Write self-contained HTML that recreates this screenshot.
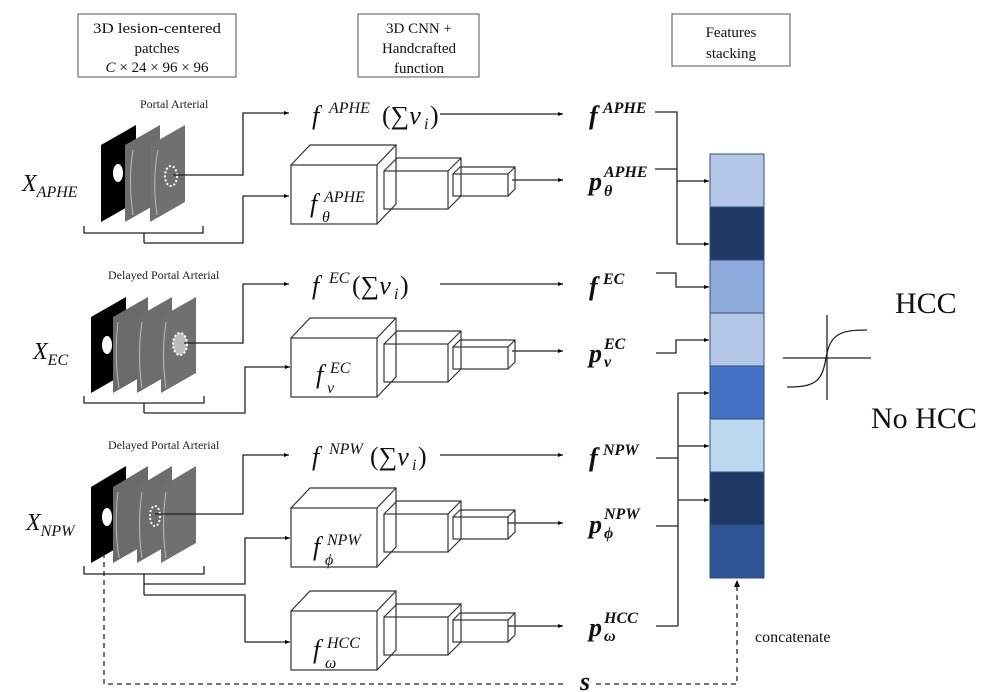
<!DOCTYPE html>
<html><head><meta charset="utf-8"><style>
html,body{margin:0;padding:0;background:#fff;}
svg{display:block;}
.m{font-family:"Liberation Serif","DejaVu Serif",serif;font-style:italic;}
.b{font-family:"Liberation Serif","DejaVu Serif",serif;font-style:italic;font-weight:bold;}
.t{font-family:"Liberation Serif",serif;}
</style></head><body>
<svg width="997" height="692" viewBox="0 0 997 692" xmlns="http://www.w3.org/2000/svg">
<defs>
<marker id="a" markerWidth="6" markerHeight="6" refX="5" refY="3" orient="auto" markerUnits="userSpaceOnUse"><path d="M0,1 L5,3 L0,5z" fill="#000"/></marker>
<g id="cube" fill="#fff" stroke="#333" stroke-width="1.2">
<path d="M0,0 L19,-20 L105,-20 L105,39 L86,59 Z"/>
<rect x="0" y="0" width="86" height="59"/>
<line x1="86" y1="0" x2="105" y2="-20"/>
<rect x="93" y="6" width="64" height="38" fill="none"/>
<path d="M93,6 L106,-7 L170,-7 L170,31 L157,44 M157,6 L170,-7" fill="none"/>
<rect x="162" y="9" width="55" height="22" fill="none"/>
<path d="M162,9 L169,2 L224,2 L224,24 L217,31 M217,9 L224,2" fill="none"/>
</g>
</defs>
<g stroke="#555" fill="#fff" stroke-width="1">
<rect x="78" y="14" width="158" height="63"/>
<rect x="358" y="14" width="121" height="63"/>
<rect x="672" y="14" width="118" height="52"/>
</g>
<g class="t" font-size="15" text-anchor="middle" fill="#111">
<text x="157" y="33" textLength="128" lengthAdjust="spacingAndGlyphs">3D lesion-centered</text>
<text x="157" y="53">patches</text>
<text x="157" y="72" font-size="15"><tspan font-style="italic">C</tspan> × 24 × 96 × 96</text>
<text x="419" y="33">3D CNN +</text>
<text x="419" y="53">Handcrafted</text>
<text x="419" y="73">function</text>
<text x="731" y="37">Features</text>
<text x="731" y="58">stacking</text>
</g>
<g font-family="Liberation Serif,serif" font-size="12" fill="#222">
<text x="140" y="108">Portal  Arterial</text>
<text x="108" y="279">Delayed Portal Arterial</text>
<text x="108" y="449">Delayed Portal Arterial</text>
</g>
<g>
<path d="M101,145 L136,125 L136,202 L101,222Z" fill="#000"/>
<path d="M125,145 L160,125 L160,202 L125,222Z" fill="#6d6d6d"/>
<path d="M150,145 L185,125 L185,202 L150,222Z" fill="#707070"/>
<ellipse cx="118" cy="173" rx="5" ry="9" fill="#fff"/>
<path d="M133,150 Q128,180 133,215 M158,150 Q152,180 157,215" stroke="#bbb" fill="none"/>
<ellipse cx="171" cy="176" rx="6" ry="10" fill="none" stroke="#fff" stroke-width="2" stroke-dasharray="2,2"/>
</g>
<g>
<path d="M91,317 L126,297 L126,373 L91,393Z" fill="#000"/>
<path d="M113,317 L148,297 L148,373 L113,393Z" fill="#6a6a6a"/>
<path d="M137,317 L172,297 L172,373 L137,393Z" fill="#6d6d6d"/>
<path d="M161,317 L196,297 L196,373 L161,393Z" fill="#707070"/>
<ellipse cx="107" cy="345" rx="5" ry="9" fill="#fff"/>
<path d="M118,322 Q114,355 119,388 M142,322 Q137,355 142,388 M166,322 Q161,355 166,388" stroke="#bbb" fill="none"/>
<ellipse cx="180" cy="344" rx="7" ry="11" fill="#bbb" stroke="#fff" stroke-width="2" stroke-dasharray="2,2"/>
</g>
<g>
<path d="M91,487 L126,466 L126,543 L91,563Z" fill="#000"/>
<path d="M113,487 L148,466 L148,543 L113,563Z" fill="#6a6a6a"/>
<path d="M137,487 L172,466 L172,543 L137,563Z" fill="#6d6d6d"/>
<path d="M161,487 L196,466 L196,543 L161,563Z" fill="#707070"/>
<ellipse cx="107" cy="517" rx="5" ry="9" fill="#fff"/>
<path d="M118,492 Q114,525 119,558 M142,492 Q137,525 142,558 M166,492 Q161,525 166,558" stroke="#bbb" fill="none"/>
<ellipse cx="155" cy="516" rx="5" ry="10" fill="none" stroke="#fff" stroke-width="2" stroke-dasharray="2,2"/>
</g>
<g class="m" font-size="24" fill="#111">
<text x="22" y="191">X<tspan font-size="16" dy="6">APHE</tspan></text>
<text x="33" y="359">X<tspan font-size="16" dy="6">EC</tspan></text>
<text x="26" y="530">X<tspan font-size="16" dy="6">NPW</tspan></text>
</g>
<g stroke="#222" stroke-width="1.3" fill="none">
<path d="M84,226 L84,233 L203,233 L203,226 M144,233 L144,243"/>
<path d="M84,396 L84,403 L204,403 L204,396 M144,403 L144,413"/>
<path d="M84,566 L84,574 L204,574 L204,566 M144,574 L144,595"/>
<path d="M173,175 L243,175 L243,113 L289,113" marker-end="url(#a)"/>
<path d="M144,243 L243,243 L243,196 L289,196" marker-end="url(#a)"/>
<path d="M184,343 L243,343 L243,284 L289,284" marker-end="url(#a)"/>
<path d="M144,413 L245,413 L245,367 L290,367" marker-end="url(#a)"/>
<path d="M155,514 L243,514 L243,455 L289,455" marker-end="url(#a)"/>
<path d="M144,584 L245,584 L245,538 L290,538" marker-end="url(#a)"/>
<path d="M144,595 L245,595 L245,642 L290,642" marker-end="url(#a)"/>
<path d="M440,114 L563,114" marker-end="url(#a)"/>
<path d="M440,284 L563,284" marker-end="url(#a)"/>
<path d="M440,455 L563,455" marker-end="url(#a)"/>
<path d="M512,180 L563,180" marker-end="url(#a)"/>
<path d="M512,351 L563,351" marker-end="url(#a)"/>
<path d="M508,523 L563,523" marker-end="url(#a)"/>
<path d="M508,626 L563,626" marker-end="url(#a)"/>
<path d="M104,553 L104,684 L563,684" stroke-dasharray="5,4"/>
<path d="M596,684 L737,684 L737,582" stroke-dasharray="5,4"/>
<path d="M734,587 L737,580 L740,587" fill="#000" stroke="none"/>
<path d="M655,112 L677,112 L677,244"/>
<path d="M655,169 L677,169"/>
<path d="M677,181 L709,181" marker-end="url(#a)"/>
<path d="M677,244 L709,244" marker-end="url(#a)"/>
<path d="M656,273 L676,273 L676,287 L709,287" marker-end="url(#a)"/>
<path d="M656,353 L676,353 L676,340 L709,340" marker-end="url(#a)"/>
<path d="M678,393 L678,626"/>
<path d="M678,393 L709,393" marker-end="url(#a)"/>
<path d="M678,446 L709,446" marker-end="url(#a)"/>
<path d="M678,500 L709,500" marker-end="url(#a)"/>
<path d="M656,458 L678,458 M656,526 L678,526 M656,626 L678,626"/>
<path d="M783,358 L871,358 M827,315 L827,400"/>
<path d="M787,387 C815,387 822,382 826,358 C830,334 840,330 867,330"/>
</g>
<use href="#cube" x="291" y="165"/>
<use href="#cube" x="291" y="338"/>
<use href="#cube" x="291" y="508"/>
<use href="#cube" x="291" y="611"/>
<g class="m" fill="#111">
<!-- cube labels -->
<text x="310" y="212" font-size="26">f</text><text x="324" y="202" font-size="16">APHE</text><text x="322" y="222" font-size="16">θ</text>
<text x="316" y="383" font-size="26">f</text><text x="330" y="373" font-size="16">EC</text><text x="327" y="393" font-size="16">ν</text>
<text x="313" y="555" font-size="26">f</text><text x="327" y="545" font-size="16">NPW</text><text x="325" y="565" font-size="16">ϕ</text>
<text x="313" y="658" font-size="26">f</text><text x="327" y="648" font-size="16">HCC</text><text x="325" y="668" font-size="16">ω</text>
<!-- formulas -->
<text x="312" y="124" font-size="26">f</text><text x="329" y="113" font-size="16">APHE</text><text x="382" y="124" font-size="26"><tspan font-style="normal">(∑</tspan>v</text><text x="424" y="129" font-size="16">i</text><text x="430" y="124" font-size="26" font-style="normal">)</text>
<text x="312" y="294" font-size="26">f</text><text x="329" y="283" font-size="16">EC</text><text x="352" y="294" font-size="26"><tspan font-style="normal">(∑</tspan>v</text><text x="394" y="299" font-size="16">i</text><text x="400" y="294" font-size="26" font-style="normal">)</text>
<text x="312" y="465" font-size="26">f</text><text x="329" y="454" font-size="16">NPW</text><text x="370" y="465" font-size="26"><tspan font-style="normal">(∑</tspan>v</text><text x="412" y="470" font-size="16">i</text><text x="418" y="465" font-size="26" font-style="normal">)</text>
</g>
<g class="b" fill="#111">
<text x="589" y="124" font-size="26">f</text><text x="603" y="113" font-size="16">APHE</text>
<text x="589" y="190" font-size="26">p</text><text x="604" y="177" font-size="16">APHE</text><text x="604" y="196" font-size="16">θ</text>
<text x="589" y="295" font-size="26">f</text><text x="603" y="284" font-size="16">EC</text>
<text x="589" y="362" font-size="26">p</text><text x="604" y="349" font-size="16">EC</text><text x="604" y="367" font-size="16">ν</text>
<text x="589" y="466" font-size="26">f</text><text x="603" y="455" font-size="16">NPW</text>
<text x="589" y="533" font-size="26">p</text><text x="604" y="519" font-size="16">NPW</text><text x="604" y="538" font-size="16">ϕ</text>
<text x="589" y="636" font-size="26">p</text><text x="604" y="623" font-size="16">HCC</text><text x="604" y="641" font-size="16">ω</text>
<text x="580" y="690" font-size="26">s</text>
</g>
<g stroke="#2f4f7f" stroke-width="1">
<rect x="710" y="154" width="54" height="53" fill="#b4c7e7"/>
<rect x="710" y="207" width="54" height="53" fill="#203864"/>
<rect x="710" y="260" width="54" height="53" fill="#8faadc"/>
<rect x="710" y="313" width="54" height="53" fill="#b4c7e7"/>
<rect x="710" y="366" width="54" height="53" fill="#4472c4"/>
<rect x="710" y="419" width="54" height="53" fill="#bdd7ee"/>
<rect x="710" y="472" width="54" height="53" fill="#203864"/>
<rect x="710" y="525" width="54" height="53" fill="#2f5597"/>
</g>
<g font-family="Liberation Serif,serif" fill="#111">
<text x="755" y="642" font-size="16">concatenate</text>
<text x="895" y="313" font-size="30">HCC</text>
<text x="871" y="428" font-size="30">No HCC</text>
</g>
</svg>
</body></html>
